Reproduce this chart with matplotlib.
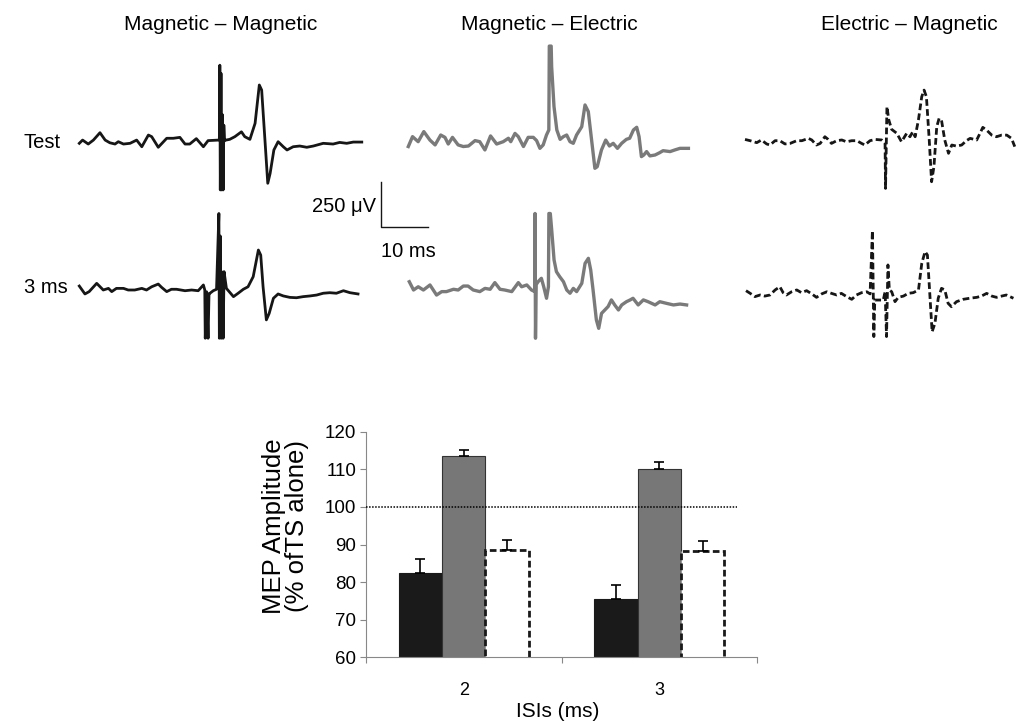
import matplotlib
matplotlib.use("Agg")
from matplotlib import pyplot as plt
import numpy as np

plt.rcParams["font.family"] = ["Liberation Sans", "DejaVu Sans"]

# ---- MEP traces: time (ms) and amplitude (uV) ----
mm_test_t = [0, 0.7, 1.9, 3.0, 4.4, 5.5, 6.5, 7.6, 8.3, 9.4, 10.8, 12.2, 13.3, 14.7, 15.4, 16.8, 18.6, 20.0, 21.4, 22.5,
             23.5, 24.9, 26.4, 27.4, 29.6, 29.8, 29.9, 30.0, 30.15, 30.3, 30.45, 30.6, 30.75, 30.9, 31.2, 32.0, 33.1, 34.5, 35.2, 36.3,
             37.4, 38.3, 38.8, 39.5, 40.1, 40.6, 41.4, 42.3, 43.4, 44.2, 45.5, 46.9, 48.4, 49.8, 51.9, 54.0, 55.4, 56.9, 58.3, 60.1]
mm_test_v = [-9, 9, -13, 9, 50, 9, -6, -13, 0, -13, -9, 9, -28, 37, 28, -31, 19, 19, 24, -13,
             -13, 17, -28, 6, 9, 9, 425, -268, 380, -268, 150, -268, 92, 5, 9, 13, 28, 55, 28, 13,
             102, 315, 287, 9, -231, -176, -46, 0, -28, -46, -28, -24, -31, -24, -9, -13, -4, -9, -2, -2]

mm_3ms_t = [0, 1.2, 2.1, 3.7, 5.1, 6.2, 6.9, 7.9, 9.4, 10.4, 11.8, 13.3, 14.3, 15.4, 16.8, 17.5, 18.6, 19.6, 20.7, 22.5,
            23.9, 25.3, 26.4, 26.7, 26.8, 27.1, 27.4, 27.6, 27.8, 28.5, 29.2, 29.7, 29.8, 30.0, 30.2, 30.4, 30.6, 30.8, 31.3, 32.8,
            33.8, 34.9, 35.9, 37.0, 38.1, 38.6, 39.1, 39.8, 40.4, 41.3, 42.3, 43.4, 44.8, 46.2, 47.6, 49.1, 50.5, 51.9, 53.3, 54.7,
            56.2, 57.6, 59.3]
mm_3ms_v = [22, -22, -9, 37, 0, 9, -9, 9, 9, 0, 0, 9, 0, 18, 33, 15, -9, 4, 4, -4,
            0, -4, 28, 0, -268, -10, -268, -20, -18, -4, 4, 425, -268, 300, -268, 100, -268, 102, 9, -37,
            -18, 4, 18, 74, 222, 194, 18, -166, -130, -46, -22, -33, -41, -43, -37, -33, -28, -18, -15, -18,
            -4, -15, -22]

me_test_t = [0, 0.9, 2.1, 3.3, 4.6, 5.7, 6.9, 7.8, 8.5, 9.4, 10.6, 11.7, 12.8, 14.2, 15.2, 16.3, 17.5, 18.8, 20.2, 21.3,
             21.8, 22.7, 23.4, 24.5, 25.5, 26.6, 27.3, 28.0, 28.7, 29.4, 29.9, 30.0, 30.4, 30.5, 31.0, 31.6, 32.3, 33.0, 33.7, 34.4,
             35.1, 35.8, 36.9, 37.6, 38.3, 39.0, 39.7, 40.2, 41.1, 42.0, 42.8, 43.6, 44.5, 45.4, 46.4, 47.1, 47.9, 48.6, 49.1, 49.6,
             50.1, 50.7, 51.4, 52.5, 53.5, 54.2, 55.7, 56.7, 57.8, 59.6]
me_test_v = [-18, 37, 9, 65, 18, -9, 46, 33, -4, 33, -9, -18, -15, 15, 9, -37, 41, -4, 9, 28,
             9, 55, 37, -18, 33, 33, 15, -28, -9, 46, 74, 540, 540, 425, 204, 74, 22, 37, 46, 9,
             0, 46, 92, 213, 176, 18, -139, -130, -37, 18, -15, 0, -28, 0, 22, 28, 74, 89, 37, -74,
             -65, -46, -70, -65, -52, -41, -46, -37, -28, -28]

me_3ms_t = [0, 0.9, 1.9, 3.0, 4.4, 5.8, 6.9, 7.9, 9.4, 10.4, 11.5, 12.5, 13.6, 15.0, 16.1, 17.2, 18.2, 19.3, 20.3, 21.8,
            23.2, 23.9, 25.0, 26.0, 26.7, 26.75, 26.85, 27.0, 27.4, 28.1, 28.6, 29.2, 29.6, 29.7, 30.0, 30.3, 30.8, 31.3, 32.0, 32.8,
            33.5, 34.2, 34.9, 35.6, 36.7, 37.4, 38.1, 38.6, 39.1, 39.8, 40.3, 40.9, 41.6, 42.3, 43.0, 43.7, 44.5, 45.2, 46.2, 47.0,
            47.6, 48.7, 49.8, 50.8, 52.3, 53.3, 54.7, 56.2, 57.6, 59.0]
me_3ms_v = [46, 0, 18, 0, 28, -28, -9, -9, 4, 0, 22, 22, 0, -9, 9, 4, 41, 4, 0, -9,
            41, 18, 28, 0, -9, 425, -268, 30, 46, 65, 18, -46, 18, 425, 425, 333, 167, 102, 74, 46,
            0, -18, 9, -9, 37, 148, 176, 111, 0, -166, -213, -130, -111, -92, -55, -83, -111, -83, -65, -55,
            -46, -83, -55, -65, -83, -65, -74, -83, -78, -83]

em_test_t = [0, 1.1, 2.5, 3.5, 4.6, 5.3, 6.4, 7.4, 8.5, 9.6, 11.0, 12.1, 13.5, 14.2, 15.2, 16.0, 17.0, 17.7, 18.4, 19.5,
             20.6, 21.6, 22.7, 23.8, 24.8, 25.5, 26.6, 27.7, 29.1, 29.8, 29.9, 30.2, 30.6, 31.2, 32.3, 33.3, 34.4, 35.1, 35.7, 36.2,
             36.9, 37.6, 38.1, 38.6, 39.2, 39.7, 40.2, 40.8, 41.3, 41.8, 42.5, 43.3, 44.0, 45.0, 46.1, 47.1, 47.9, 49.3, 50.0, 50.6,
             51.4, 52.5, 53.5, 54.6, 55.7, 56.7, 57.4]
em_test_v = [7, 0, -11, 4, -18, -24, 0, 0, -18, -15, 0, 0, 13, 4, -24, -15, 22, 7, -15, 0,
             4, -6, 0, 0, -15, -24, 0, 7, 4, -15, -265, 189, 115, 63, 41, -6, 41, 22, 50, 22,
             115, 244, 281, 244, 4, -228, -144, 78, 124, 115, 4, -70, -24, -30, -24, 0, 13, 4, 41, 74,
             59, 31, 22, 31, 31, 13, -33]

em_3ms_t = [0, 0.9, 1.9, 3.0, 4.0, 5.1, 6.2, 7.2, 7.9, 8.6, 9.7, 10.8, 11.8, 12.9, 14.0, 15.0, 16.1, 17.2, 18.2, 19.3,
            20.3, 21.4, 22.5, 23.5, 24.6, 25.7, 26.4, 26.9, 27.2, 27.4, 28.5, 29.2, 29.6, 29.9, 30.2, 30.5, 31.0, 31.7, 32.4, 33.5,
            34.5, 35.6, 36.7, 37.4, 38.1, 38.6, 39.1, 39.6, 40.2, 40.9, 41.6, 42.3, 43.0, 43.7, 44.8, 46.2, 47.6, 49.1, 50.1, 51.2,
            52.3, 53.3, 54.4, 55.4, 56.9]
em_3ms_v = [24, 9, -9, 0, -6, 0, 28, 46, 13, 0, 18, 28, 13, 24, 6, -13, 6, 18, 9, 0,
            9, -9, -24, 0, 13, 18, 6, 357, -231, -28, -28, -28, 18, -231, 167, 28, 18, -37, -13, -6,
            9, 13, 28, 176, 241, 222, 9, -204, -157, -18, 37, 28, -46, -65, -37, -24, -18, -13, -6, 9,
            -6, -13, -6, 0, -18]

# ---- bar chart data ----
isis = ["2", "3"]
mag_mag = [82.5, 75.5]
mag_mag_err = [3.6, 3.6]
mag_ele = [113.5, 110.2]
mag_ele_err = [1.6, 1.7]
ele_mag = [88.5, 88.3]
ele_mag_err = [2.7, 2.6]

W, H = 1016, 721
PX_PER_MS = 4.7
PX_PER_UV = 45 / 250.0


def fx(x):
    return x / W


def fy(y):
    return 1 - y / H


fig = plt.figure(figsize=(W / 100, H / 100), dpi=100)

# trace canvas: whole figure, x in ms, y in uV
ax_tr = fig.add_axes([0, 0, 1, 1])
ax_tr.set_xlim(0, W / PX_PER_MS)
ax_tr.set_ylim(-H / PX_PER_UV, 0)
ax_tr.axis("off")

black = "#161616"
grey = "#7a7a7a"
traces = [
    (mm_test_t, mm_test_v, (79.3, 141.7), dict(color=black, lw=2.0)),
    (mm_3ms_t, mm_3ms_v, (79.3, 290), dict(color=black, lw=2.0)),
    (me_test_t, me_test_v, (408.3, 143.3), dict(color=grey, lw=2.4)),
    (me_3ms_t, me_3ms_v, (409.3, 290), dict(color=grey, lw=2.4)),
    (em_test_t, em_test_v, (745, 140.7), dict(color=black, lw=2.0, dashes=(2.4, 1.2))),
    (em_3ms_t, em_3ms_v, (746, 295), dict(color=black, lw=2.0, dashes=(2.4, 1.2))),
]
for t, v, (x0, y0), style in traces:
    t = np.array(t) + x0 / PX_PER_MS
    v = np.array(v) - y0 / PX_PER_UV
    ax_tr.plot(t, v, solid_joinstyle="round", **style)

# scale bar: 10 ms x 250 uV
sx, sy = 381 / PX_PER_MS, -227 / PX_PER_UV
ax_tr.plot([sx, sx, sx + 10], [sy + 250, sy, sy], color=black, lw=1.0)

fs = 15
fig.text(fx(221), fy(24), "Magnetic \u2013 Magnetic", ha="center", va="center", fontsize=fs)
fig.text(fx(549), fy(24), "Magnetic \u2013 Electric", ha="center", va="center", fontsize=fs)
fig.text(fx(909), fy(24), "Electric \u2013 Magnetic", ha="center", va="center", fontsize=fs)
fig.text(fx(24), fy(143), "Test", ha="left", va="center", fontsize=14.5)
fig.text(fx(24), fy(287), "3 ms", ha="left", va="center", fontsize=14.5)
fig.text(fx(376), fy(206), "250 \u03bcV", ha="right", va="center", fontsize=14.5)
fig.text(fx(381), fy(251), "10 ms", ha="left", va="center", fontsize=14.5)

# ---- bar chart ----
ax = fig.add_axes([fx(366), fy(657.3), fx(757 - 366), (657.3 - 431.7) / H])
x = np.arange(len(isis))
bw = 0.222
ekw = dict(ecolor="black", elinewidth=1.2, capsize=3.5, capthick=1.2)
ax.bar(x - bw, mag_mag, bw, color="#1a1a1a", edgecolor="#1a1a1a", lw=0.8,
       yerr=[[0, 0], mag_mag_err], error_kw=ekw, zorder=2)
ax.bar(x, mag_ele, bw, color="#777777", edgecolor="#333333", lw=0.8,
       yerr=[[0, 0], mag_ele_err], error_kw=ekw, zorder=2)
ax.bar(x + bw, ele_mag, bw, color="white", edgecolor="#1a1a1a", lw=2.0, linestyle=(0, (2.4, 1.2)),
       yerr=[[0, 0], ele_mag_err], error_kw=ekw, zorder=2)
ax.axhline(100, xmin=0, xmax=0.95, color="black", lw=1.1, linestyle=(0, (1, 1)), zorder=3)

ax.set_ylim(60, 120)
ax.set_xlim(-0.5, 1.5)
ax.set_yticks(np.arange(60, 121, 10))
ax.set_xticks([-0.5, 0.5, 1.5], minor=False)
ax.set_xticklabels([])
ax.set_xticks(x, minor=True)
ax.set_xticklabels(isis, minor=True)
ax.tick_params(axis="x", which="major", length=4, color="#888888")
ax.tick_params(axis="x", which="minor", length=0, labelsize=13, pad=18)
ax.tick_params(axis="y", length=4, color="#888888", labelsize=13.5, pad=3)
for side in ["top", "right"]:
    ax.spines[side].set_visible(False)
for side in ["left", "bottom"]:
    ax.spines[side].set_color("#888888")
ax.set_ylabel("MEP Amplitude\n(% ofTS alone)", fontsize=18.5, linespacing=0.95, va="center")
ax.yaxis.set_label_coords(-0.205, 0.58)
ax.set_xlabel("ISIs (ms)", fontsize=15, va="center")
ax.xaxis.set_label_coords(0.491, -0.24)

fig.savefig("out.png", dpi=100)
